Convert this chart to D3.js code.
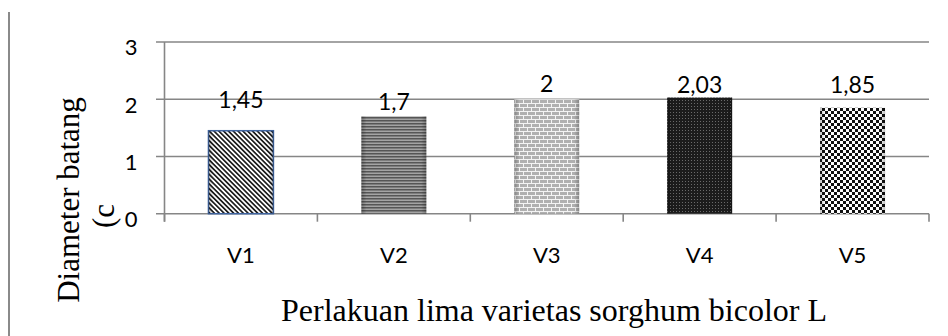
<!DOCTYPE html>
<html>
<head>
<meta charset="utf-8">
<script src="https://cdn.jsdelivr.net/npm/d3@7"></script>
<style>
html,body{margin:0;padding:0;background:#fff;}
svg{display:block;}
</style>
</head>
<body>
<svg id="chart" width="948" height="336"></svg>
<script>
// ---- data ----
const categories = ["V1", "V2", "V3", "V4", "V5"];
const values = [1.45, 1.7, 2, 2.03, 1.85];
const yTickValues = [0, 1, 2, 3];
const xTitle = "Perlakuan lima varietas sorghum bicolor L";
const yTitle = "Diameter batang";
const yTitleWrap = "(c";

// ---- layout (not data) ----
const W = 948, H = 336;
const plot = {left: 164.5, right: 929, top: 42, bottom: 213.7};
const labelLift = [23, 6, 7, 5, 15];
const patternIds = ["pDiag", "pHoriz", "pBrick", "pDark", "pCheck"];
const sansFont = "Lato, 'Open Sans', sans-serif";
const serifFont = "'Liberation Serif', 'Times New Roman', serif";

const svg = d3.select("#chart");
const defs = svg.append("defs");

// patterns
const p1 = defs.append("pattern").attr("id", "pDiag").attr("patternUnits", "userSpaceOnUse")
  .attr("width", 3.4).attr("height", 10).attr("patternTransform", "rotate(-45)");
p1.append("rect").attr("width", 3.4).attr("height", 10).attr("fill", "#ffffff");
p1.append("rect").attr("width", 1.7).attr("height", 10).attr("fill", "#1e1e1e");

const p2 = defs.append("pattern").attr("id", "pHoriz").attr("patternUnits", "userSpaceOnUse")
  .attr("width", 10).attr("height", 3);
p2.append("rect").attr("width", 10).attr("height", 3).attr("fill", "#a4a4a4");
p2.append("rect").attr("width", 10).attr("height", 1.5).attr("fill", "#565656");

const p3 = defs.append("pattern").attr("id", "pBrick").attr("patternUnits", "userSpaceOnUse")
  .attr("width", 8).attr("height", 8);
p3.append("rect").attr("width", 8).attr("height", 8).attr("fill", "#f4f4f4");
p3.append("rect").attr("x", 0).attr("y", 0).attr("width", 7).attr("height", 3).attr("fill", "#b0b0b0");
p3.append("rect").attr("x", 4).attr("y", 4).attr("width", 7).attr("height", 3).attr("fill", "#b0b0b0");
p3.append("rect").attr("x", -4).attr("y", 4).attr("width", 7).attr("height", 3).attr("fill", "#b0b0b0");

const p4 = defs.append("pattern").attr("id", "pDark").attr("patternUnits", "userSpaceOnUse")
  .attr("width", 3).attr("height", 3);
p4.append("rect").attr("width", 3).attr("height", 3).attr("fill", "#1c1c1c");
p4.append("rect").attr("x", 1).attr("y", 1).attr("width", 1).attr("height", 1).attr("fill", "#6a6a6a");

const p5 = defs.append("pattern").attr("id", "pCheck").attr("patternUnits", "userSpaceOnUse")
  .attr("width", 6).attr("height", 6);
p5.append("rect").attr("width", 6).attr("height", 6).attr("fill", "#ffffff");
p5.append("rect").attr("x", 0).attr("y", 0).attr("width", 3).attr("height", 3).attr("fill", "#111");
p5.append("rect").attr("x", 3).attr("y", 3).attr("width", 3).attr("height", 3).attr("fill", "#111");

// edge shading gradient
const g = defs.append("linearGradient").attr("id", "edgeShade").attr("x1", "0").attr("x2", "1").attr("y1", "0").attr("y2", "0");
g.append("stop").attr("offset", "0").attr("stop-color", "#000").attr("stop-opacity", 0.25);
g.append("stop").attr("offset", "0.08").attr("stop-color", "#000").attr("stop-opacity", 0);
g.append("stop").attr("offset", "0.92").attr("stop-color", "#000").attr("stop-opacity", 0);
g.append("stop").attr("offset", "1").attr("stop-color", "#000").attr("stop-opacity", 0.25);

// scales
const x = d3.scaleBand().domain(categories).range([plot.left, plot.right])
  .paddingInner(0.575).paddingOuter(0.2875);
const y = d3.scaleLinear().domain([0, 3]).range([plot.bottom, plot.top]);
const step = x.step();

// outer left line
svg.append("line").attr("x1", 9).attr("x2", 9).attr("y1", 12).attr("y2", H)
  .attr("stroke", "#8a8a8a").attr("stroke-width", 2);

// gridlines
svg.append("g").selectAll("line").data(yTickValues).join("line")
  .attr("x1", plot.left - 8.5).attr("x2", plot.right)
  .attr("y1", d => y(d)).attr("y2", d => y(d))
  .attr("stroke", "#868686").attr("stroke-width", 1.6);

// y axis line
svg.append("line").attr("x1", plot.left).attr("x2", plot.left)
  .attr("y1", plot.top).attr("y2", plot.bottom + 8)
  .attr("stroke", "#868686").attr("stroke-width", 1.6);

// category boundary ticks
const bounds = d3.range(categories.length + 1).map(i => plot.left + i * step);
svg.append("g").selectAll("line").data(bounds).join("line")
  .attr("x1", d => d).attr("x2", d => d)
  .attr("y1", plot.bottom).attr("y2", plot.bottom + 8)
  .attr("stroke", "#868686").attr("stroke-width", 1.6);

// y tick labels via axis
const yAxis = d3.axisLeft(y).tickValues(yTickValues).tickSize(0).tickPadding(0).tickFormat(d3.format("d"));
const ya = svg.append("g").attr("transform", `translate(${plot.left - 27},0)`).call(yAxis);
ya.select(".domain").remove();
ya.selectAll("text").attr("font-family", sansFont).attr("font-size", 22)
  .attr("fill", "#000").attr("dy", "0.72em").attr("y", -3);

// x labels via axis
const xAxis = d3.axisBottom(x).tickSize(0).tickPadding(0);
const xa = svg.append("g").attr("transform", `translate(0,${plot.bottom})`).call(xAxis);
xa.select(".domain").remove();
xa.selectAll("text").attr("font-family", sansFont).attr("font-size", 22)
  .attr("fill", "#000").attr("y", 49).attr("dy", 0);

// bars
const bars = svg.append("g");
bars.selectAll("rect.bar").data(values).join("rect").attr("class", "bar")
  .attr("x", (d, i) => x(categories[i])).attr("width", x.bandwidth())
  .attr("y", d => y(d)).attr("height", d => y(0) - y(d))
  .attr("fill", (d, i) => `url(#${patternIds[i]})`)
  .attr("stroke", (d, i) => i === 0 ? "#3f64a0" : "none")
  .attr("stroke-width", 1.5);
bars.selectAll("rect.shade").data(values).join("rect").attr("class", "shade")
  .attr("x", (d, i) => x(categories[i])).attr("width", x.bandwidth())
  .attr("y", d => y(d)).attr("height", d => y(0) - y(d))
  .attr("fill", "url(#edgeShade)");

// value labels
svg.append("g").selectAll("text").data(values).join("text")
  .attr("x", (d, i) => x(categories[i]) + x.bandwidth() / 2)
  .attr("y", (d, i) => y(d) - labelLift[i])
  .attr("text-anchor", "middle")
  .attr("font-family", sansFont).attr("font-size", 23)
  .attr("fill", "#000")
  .text(d => String(d).replace(".", ","));

// axis titles
svg.append("text").attr("x", 554).attr("y", 321).attr("text-anchor", "middle")
  .attr("font-family", serifFont).attr("font-size", 32)
  .attr("fill", "#000").text(xTitle);

svg.append("text").attr("transform", "translate(79,200) rotate(-90)").attr("text-anchor", "middle")
  .attr("font-family", serifFont).attr("font-size", 31)
  .attr("fill", "#000").text(yTitle);
svg.append("text").attr("transform", "translate(114,228) rotate(-90)").attr("text-anchor", "start")
  .attr("font-family", serifFont).attr("font-size", 31)
  .attr("fill", "#000").text(yTitleWrap);
</script>
</body>
</html>
